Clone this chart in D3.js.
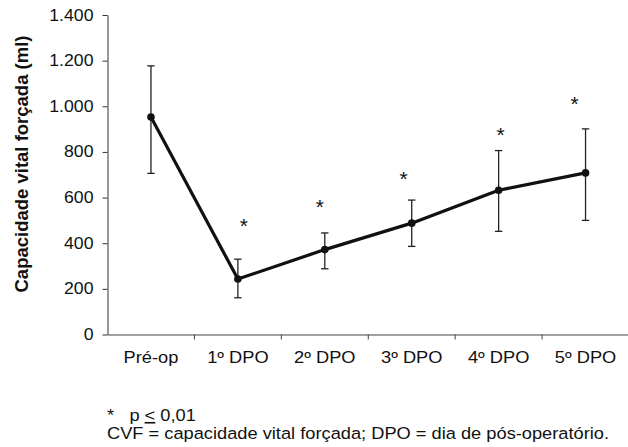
<!DOCTYPE html>
<html><head><meta charset="utf-8">
<script src="https://cdn.jsdelivr.net/npm/d3@7"></script>
<style>body{margin:0;background:#fff}svg{display:block;font-family:Arial,"Liberation Sans",sans-serif}</style>
</head><body><svg id="c" width="628" height="447"></svg>
<script>
const categories = ["Pré-op","1º DPO","2º DPO","3º DPO","4º DPO","5º DPO"];
const means = [953, 243, 372, 488, 632, 708];
const upper = [1177, 330, 445, 589, 806, 901];
const lower = [706, 161, 288, 386, 452, 500];
const starValues = [null, 484, 569, 690, 885, 1018];
const yTicks = [0,200,400,600,800,1000,1200,1400];

(function(){
const svg = d3.select("#c");
const FONT = "Arial, Liberation Sans, sans-serif";
const SX = 1.12; // horizontal stretch of the original artwork's text
const mL = 107.5, mR = 629, mT = 15, mB = 334.5;
const x = d3.scaleBand().domain(categories).range([mL, mR]).paddingInner(0).paddingOuter(0);
const y = d3.scaleLinear().domain([0,1400]).range([mB, mT]);
const loc = d3.formatLocale({decimal:",", thousands:".", grouping:[3], currency:["",""]});
const fmt = loc.format(",d");
const cx = d => x(d) + x.bandwidth()/2;

// Y axis
const ya = svg.append("g").attr("transform",`translate(${mL},0)`)
  .call(d3.axisLeft(y).tickValues(yTicks).tickFormat(fmt).tickSize(5).tickSizeOuter(0));
ya.select(".domain").attr("stroke","#333");
ya.selectAll(".tick line").attr("stroke","#333");
ya.selectAll("text").attr("font-size",15.8).attr("fill","#111").attr("x",-12.5)
  .attr("transform",`scale(${SX},1)`).attr("font-family",FONT);

// X axis
const xa = svg.append("g").attr("transform",`translate(0,${mB})`)
  .call(d3.axisBottom(x).tickSize(0).tickSizeOuter(0));
xa.select(".domain").attr("stroke","#444");
xa.selectAll("text").attr("font-size",16.3).attr("fill","#111").attr("y",28.8).attr("dy",0)
  .attr("transform",`scale(${SX},1)`).attr("font-family",FONT);
xa.selectAll(".bt").data(categories.slice(1)).enter().append("line")
  .attr("x1", d=>x(d)).attr("x2", d=>x(d)).attr("y1",0).attr("y2",5).attr("stroke","#444");

// Y title
svg.append("text").attr("transform",`translate(28,164) rotate(-90)`)
  .attr("text-anchor","middle").attr("font-size",18.5).attr("font-weight","bold").attr("fill","#111")
  .text("Capacidade vital forçada (ml)");

// Error bars
const eb = svg.append("g").attr("stroke","#222").attr("stroke-width",1.3);
categories.forEach((c,i)=>{
  eb.append("line").attr("x1",cx(c)).attr("x2",cx(c)).attr("y1",y(upper[i])).attr("y2",y(lower[i]));
  eb.append("line").attr("x1",cx(c)-3.7).attr("x2",cx(c)+3.7).attr("y1",y(upper[i])).attr("y2",y(upper[i]));
  eb.append("line").attr("x1",cx(c)-3.7).attr("x2",cx(c)+3.7).attr("y1",y(lower[i])).attr("y2",y(lower[i]));
});

// Line
const line = d3.line().x((d,i)=>cx(categories[i])).y(d=>y(d));
svg.append("path").datum(means).attr("d",line).attr("fill","none").attr("stroke","#111").attr("stroke-width",3.2).attr("stroke-linejoin","round");
svg.selectAll(".pt").data(means).enter().append("circle")
  .attr("cx",(d,i)=>cx(categories[i])).attr("cy",d=>y(d)).attr("r",3.8).attr("fill","#111");

// Stars
const starDx = [0, 6, -5, -8, 2, -11];
const stars = starValues.map((v,i)=>({v,i})).filter(d=>d.v!==null);
svg.selectAll(".star").data(stars).enter().append("text")
  .attr("x",d=>cx(categories[d.i]) + starDx[d.i])
  .attr("y",d=>y(d.v)+9).attr("text-anchor","middle").attr("font-size",21).attr("fill","#111").text("*");

// Footnotes
const fn = svg.append("g").attr("font-size",16.3).attr("fill","#111").attr("font-family",FONT)
  .attr("transform",`translate(107,0) scale(${SX},1)`);
fn.append("text").attr("x",0).attr("y",421).text("*");
fn.append("text").attr("x",20).attr("y",421).html('p <tspan text-decoration="underline">&lt;</tspan> 0,01');
fn.append("text").attr("x",0).attr("y",439).text("CVF = capacidade vital forçada; DPO = dia de pós-operatório.");
})();
</script></body></html>
